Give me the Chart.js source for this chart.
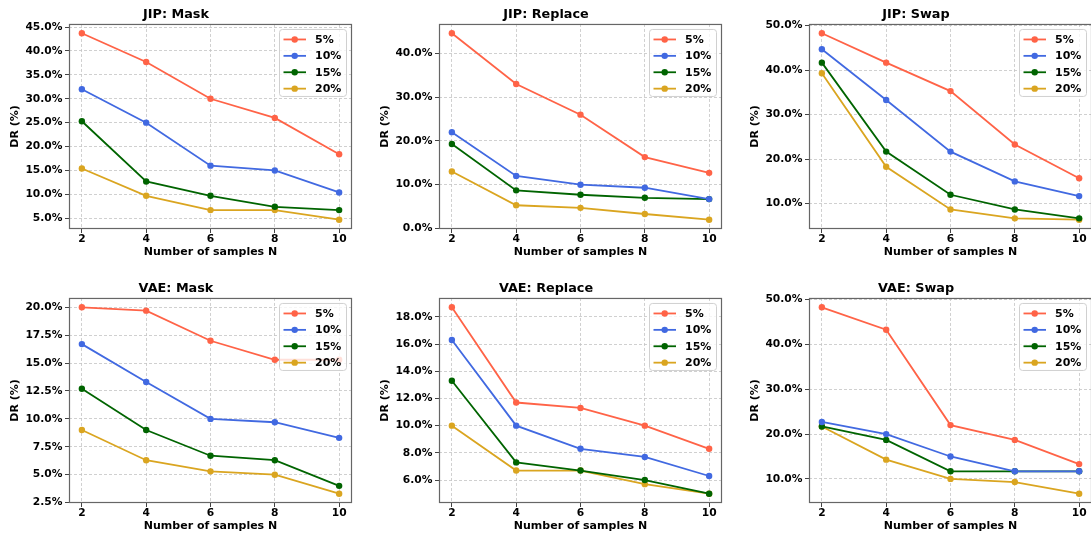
<!DOCTYPE html>
<html>
<head>
<meta charset="utf-8">
<script src="https://cdn.jsdelivr.net/npm/chart.js@4.4.1/dist/chart.umd.min.js"></script>
<style>
  html, body { margin: 0; padding: 0; background: #fff; overflow: hidden; }
  body { width: 1091px; height: 539px; position: relative; }
  canvas { position: absolute; }
</style>
</head>
<body>
<canvas id="jipMaskChart" width="367" height="260" style="left:0px;top:0px"></canvas>
<canvas id="jipReplaceChart" width="367" height="260" style="left:370px;top:0px"></canvas>
<canvas id="jipSwapChart" width="367" height="260" style="left:740px;top:0px"></canvas>
<canvas id="vaeMaskChart" width="367" height="260" style="left:0px;top:274px"></canvas>
<canvas id="vaeReplaceChart" width="367" height="260" style="left:370px;top:274px"></canvas>
<canvas id="vaeSwapChart" width="367" height="260" style="left:740px;top:274px"></canvas>
<script>
// x values and series
const samplesN = [2, 4, 6, 8, 10];
const seriesNames = ['5%', '10%', '15%', '20%'];
const seriesColors = ['#ff6347', '#4169e1', '#006400', '#daa520'];

// DR (%) per series (5%, 10%, 15%, 20%)
const jipMask = [
  [43.7, 37.7, 30.0, 26.0, 18.4],
  [32.0, 25.0, 16.0, 15.0, 10.4],
  [25.3, 12.7, 9.7, 7.4, 6.7],
  [15.4, 9.7, 6.7, 6.7, 4.7]
];
const jipReplace = [
  [44.6, 33.0, 26.0, 16.3, 12.7],
  [22.0, 12.0, 10.0, 9.3, 6.7],
  [19.3, 8.7, 7.7, 7.0, 6.7],
  [13.0, 5.3, 4.7, 3.3, 2.0]
];
const jipSwap = [
  [48.3, 41.7, 35.3, 23.3, 15.7],
  [44.7, 33.3, 21.7, 15.0, 11.7],
  [41.7, 21.7, 12.0, 8.7, 6.7],
  [39.3, 18.3, 8.7, 6.7, 6.4]
];
const vaeMask = [
  [20.0, 19.7, 17.0, 15.3, 15.3],
  [16.7, 13.3, 10.0, 9.7, 8.3],
  [12.7, 9.0, 6.7, 6.3, 4.0],
  [9.0, 6.3, 5.3, 5.0, 3.3]
];
const vaeReplace = [
  [18.7, 11.7, 11.3, 10.0, 8.3],
  [16.3, 10.0, 8.3, 7.7, 6.3],
  [13.3, 7.3, 6.7, 6.0, 5.0],
  [10.0, 6.7, 6.7, 5.7, 5.0]
];
const vaeSwap = [
  [48.3, 43.3, 22.0, 18.7, 13.3],
  [22.7, 20.0, 15.0, 11.7, 11.7],
  [21.7, 18.7, 11.7, 11.7, 11.7],
  [21.7, 14.3, 10.0, 9.3, 6.7]
];

// y tick labels per panel
const jipMaskTicks = [5, 10, 15, 20, 25, 30, 35, 40, 45];
const jipReplaceTicks = [0, 10, 20, 30, 40];
const jipSwapTicks = [10, 20, 30, 40, 50];
const vaeMaskTicks = [2.5, 5, 7.5, 10, 12.5, 15, 17.5, 20];
const vaeReplaceTicks = [6, 8, 10, 12, 14, 16, 18];
const vaeSwapTicks = [10, 20, 30, 40, 50];

const FONT = "'DejaVu Sans', sans-serif";
Chart.defaults.color = '#000';
Chart.defaults.font.family = FONT;
Chart.defaults.font.weight = 'bold';

// matplotlib-like frame and in-plot legend
const mplDecor = {
  id: 'mplDecor',
  afterDatasetsDraw(chart) {
    const { ctx, chartArea: a } = chart;
    ctx.save();
    ctx.strokeStyle = '#666';
    ctx.lineWidth = 1.2;
    ctx.strokeRect(a.left + 0.5, a.top + 0.5, a.right - a.left - 1, a.bottom - a.top - 1);

    const bw = 67, bh = 67;
    const bx = a.right - 6 - bw, by = a.top + 5;
    ctx.beginPath();
    ctx.roundRect(bx + 0.5, by + 0.5, bw, bh, 3);
    ctx.fillStyle = 'rgba(255,255,255,0.8)';
    ctx.fill();
    ctx.strokeStyle = '#d0d0d0';
    ctx.lineWidth = 1;
    ctx.stroke();

    ctx.font = 'bold 11px ' + FONT;
    ctx.textBaseline = 'middle';
    chart.data.datasets.forEach((ds, i) => {
      const y = by + 10.5 + i * 16.4;
      ctx.strokeStyle = ds.borderColor;
      ctx.lineWidth = 1.8;
      ctx.beginPath();
      ctx.moveTo(bx + 4.5, y);
      ctx.lineTo(bx + 27, y);
      ctx.stroke();
      ctx.fillStyle = ds.borderColor;
      ctx.beginPath();
      ctx.arc(bx + 15.7, y, 3.2, 0, Math.PI * 2);
      ctx.fill();
      ctx.fillStyle = '#000';
      ctx.fillText(ds.label, bx + 36, y + 0.5);
    });
    ctx.restore();
  }
};

const makePanel = (id, title, rows, yTicks) => {
  const all = rows.flat();
  const lo = Math.min(...all), hi = Math.max(...all);
  const pad = (hi - lo) * 0.05;

  new Chart(document.getElementById(id), {
    type: 'line',
    data: {
      datasets: rows.map((vals, i) => ({
        label: seriesNames[i],
        data: vals.map((v, j) => ({ x: samplesN[j], y: v })),
        borderColor: seriesColors[i],
        backgroundColor: seriesColors[i],
        borderWidth: 1.8,
        pointRadius: 3.2,
        pointBorderWidth: 0,
        tension: 0
      }))
    },
    options: {
      responsive: false,
      animation: false,
      layout: { padding: { left: 0, right: 15, top: 0, bottom: 0 } },
      plugins: {
        legend: { display: false },
        tooltip: { enabled: false },
        title: {
          display: true,
          text: title,
          font: { size: 12.8, weight: 'bold' },
          color: '#000',
          padding: { top: 7.3, bottom: 1.3 }
        }
      },
      scales: {
        x: {
          type: 'linear',
          min: 1.6,
          max: 10.4,
          afterBuildTicks: s => { s.ticks = samplesN.map(v => ({ value: v })); },
          afterFit: s => { s.height = 31; },
          grid: { color: '#c4c4c4', lineWidth: 0.8, tickColor: '#444', tickLength: 4, tickWidth: 1 },
          border: { display: false, dash: [3, 2] },
          ticks: { font: { size: 10.7, weight: 'bold' }, padding: 0, maxRotation: 0 },
          title: {
            display: true,
            text: 'Number of samples N',
            font: { size: 11, weight: 'bold' },
            padding: { top: 0, bottom: 1.4 }
          }
        },
        y: {
          min: lo - pad,
          max: hi + pad,
          afterBuildTicks: s => { s.ticks = yTicks.map(v => ({ value: v })); },
          afterFit: s => { s.width = 69; },
          grid: { color: '#c4c4c4', lineWidth: 0.8, tickColor: '#444', tickLength: 4, tickWidth: 1 },
          border: { display: false, dash: [3, 2] },
          ticks: {
            font: { size: 10.7, weight: 'bold' },
            padding: 2.5,
            callback: v => v.toFixed(1) + '%'
          },
          title: {
            display: true,
            text: 'DR (%)',
            font: { size: 11, weight: 'bold' },
            padding: { top: 9, bottom: 0 }
          }
        }
      }
    },
    plugins: [mplDecor]
  });
};

makePanel('jipMaskChart', 'JIP: Mask', jipMask, jipMaskTicks);
makePanel('jipReplaceChart', 'JIP: Replace', jipReplace, jipReplaceTicks);
makePanel('jipSwapChart', 'JIP: Swap', jipSwap, jipSwapTicks);
makePanel('vaeMaskChart', 'VAE: Mask', vaeMask, vaeMaskTicks);
makePanel('vaeReplaceChart', 'VAE: Replace', vaeReplace, vaeReplaceTicks);
makePanel('vaeSwapChart', 'VAE: Swap', vaeSwap, vaeSwapTicks);
</script>
</body>
</html>
